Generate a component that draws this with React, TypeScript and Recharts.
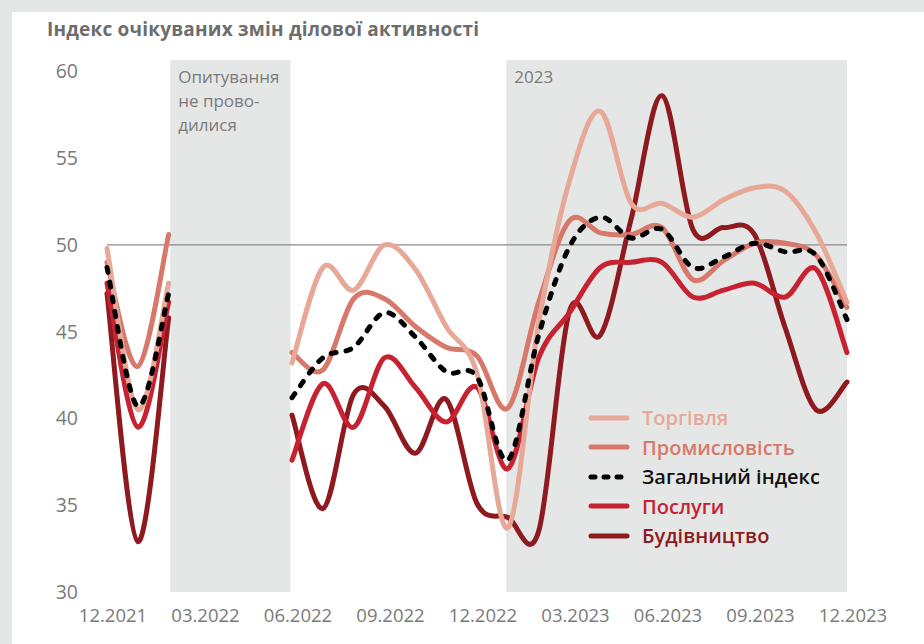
import React from "react";
import { LineChart, Line, XAxis, YAxis, ReferenceArea, ReferenceLine } from "recharts";

// monthly points 12.2021 .. 12.2023, null = no survey
const months = [
  "12.2021", "01.2022", "02.2022", "03.2022", "04.2022", "05.2022", "06.2022", "07.2022", "08.2022",
  "09.2022", "10.2022", "11.2022", "12.2022", "01.2023", "02.2023", "03.2023", "04.2023", "05.2023",
  "06.2023", "07.2023", "08.2023", "09.2023", "10.2023", "11.2023", "12.2023",
];
const tickIdx = [0, 3, 6, 9, 12, 15, 18, 21, 24];
const yTicks = [30, 35, 40, 45, 50, 55, 60];

const trade = [49.8, 40.5, 47.8, null, null, null, 43.2, 48.7, 47.4, 50.0, 48.6, 45.3, 42.6, 33.7, 45.5, 53.7, 57.7, 52.4, 52.4, 51.6, 52.6, 53.3, 53.1, 50.7, 46.7];
const industry = [49.0, 43.0, 50.6, null, null, null, 43.8, 42.8, 46.9, 46.9, 45.3, 44.1, 43.6, 40.6, 46.7, 51.4, 50.7, 50.6, 51.0, 48.0, 49.1, 50.1, 50.1, 49.4, 46.4];
const total = [48.7, 40.7, 47.2, null, null, null, 41.2, 43.5, 44.1, 46.1, 44.7, 42.7, 42.4, 37.6, 44.8, 49.9, 51.6, 50.4, 50.9, 48.7, 49.3, 50.1, 49.6, 49.4, 45.7];
const services = [47.8, 39.5, 46.7, null, null, null, 37.6, 42.0, 39.5, 43.5, 41.8, 39.8, 41.8, 37.1, 43.5, 46.1, 48.7, 49.0, 49.0, 47.0, 47.4, 47.8, 47.0, 48.6, 43.8];
const construction = [47.2, 32.9, 45.8, null, null, null, 40.2, 34.8, 41.4, 40.7, 38.0, 41.1, 35.1, 34.3, 33.5, 46.2, 44.8, 51.5, 58.6, 50.9, 51.0, 50.6, 45.2, 40.5, 42.1];

const data = months.map((m, i) => ({
  i,
  trade: trade[i],
  industry: industry[i],
  total: total[i],
  services: services[i],
  construction: construction[i],
}));

const C = {
  trade: "#E7A898",
  industry: "#D8786B",
  total: "#000000",
  services: "#C62232",
  construction: "#8E1A20",
};

const series = [
  { key: "construction", name: "Будівництво" },
  { key: "services", name: "Послуги" },
  { key: "industry", name: "Промисловість" },
  { key: "trade", name: "Торгівля" },
  { key: "total", name: "Загальний індекс" },
];
const legendOrder = ["trade", "industry", "total", "services", "construction"];

const GREY = "#7a7a7a";
const SHADE = "#E5E7E7";

// Catmull-Rom smoothing (Excel-like smoothed lines)
function smooth(context: any) {
  let pts: [number, number][] = [];
  return {
    areaStart() {},
    areaEnd() {},
    lineStart() { pts = []; },
    point(x: number, y: number) { pts.push([+x, +y]); },
    lineEnd() {
      if (!pts.length) return;
      context.moveTo(pts[0][0], pts[0][1]);
      for (let k = 0; k < pts.length - 1; k++) {
        const p0 = pts[k - 1] || pts[k];
        const p1 = pts[k];
        const p2 = pts[k + 1];
        const p3 = pts[k + 2] || p2;
        context.bezierCurveTo(
          p1[0] + (p2[0] - p0[0]) / 6, p1[1] + (p2[1] - p0[1]) / 6,
          p2[0] - (p3[0] - p1[0]) / 6, p2[1] - (p3[1] - p1[1]) / 6,
          p2[0], p2[1],
        );
      }
    },
  };
}

function AreaNote({ viewBox, lines }: any) {
  if (!viewBox) return null;
  return (
    <g>
      {lines.map((t: string, k: number) => (
        <text key={k} x={viewBox.x + 8} y={viewBox.y + 23 + k * 24} fill={GREY} fontSize={17}>{t}</text>
      ))}
    </g>
  );
}

function XTick({ x, y, payload }: any) {
  return (
    <text x={x + 6} y={y} dy="0.71em" textAnchor="middle" fill={GREY} fontSize={18.5}>
      {months[payload.value]}
    </text>
  );
}

function Sample({ color, dashed }: { color: string; dashed?: boolean }) {
  return (
    <svg width={44} height={10} style={{ display: "block" }}>
      <line x1={3} y1={5} x2={39} y2={5} stroke={color} strokeWidth={5} strokeLinecap="round"
        strokeDasharray={dashed ? "4 9" : undefined} />
    </svg>
  );
}

export default function App() {
  return (
    <div style={{ position: "absolute", left: 0, top: 0, width: 924, height: 644, background: "#fff", fontFamily: "'Open Sans', sans-serif", overflow: "hidden" }}>
      <div style={{ position: "absolute", left: 0, top: 0, width: 924, height: 12, background: SHADE }} />
      <div style={{ position: "absolute", left: 0, top: 0, width: 12, height: 644, background: SHADE }} />
      <div style={{ position: "absolute", left: 47, top: 16, fontSize: 19, fontWeight: 700, letterSpacing: 0.2, color: "#6d6d6d" }}>
        Індекс очікуваних змін ділової активності
      </div>
      <div style={{ position: "absolute", left: 0, top: 0 }}>
        <LineChart width={924} height={644} data={data} margin={{ top: 60, right: 77, bottom: 22, left: 0 }}>
          <ReferenceArea x1={2.05} x2={5.95} y1={30} y2={60.66} fill={SHADE} fillOpacity={1} stroke="none"
            label={(p: any) => <AreaNote viewBox={p.viewBox} lines={["Опитування", "не прово-", "дилися"]} />} />
          <ReferenceArea x1={12.95} x2={24} y1={30} y2={60.66} fill={SHADE} fillOpacity={1} stroke="none"
            label={(p: any) => <AreaNote viewBox={p.viewBox} lines={["2023"]} />} />
          <ReferenceLine y={50} stroke="#8a8a8a" strokeWidth={1.3} />
          <XAxis dataKey="i" type="number" domain={[0, 24]} ticks={tickIdx} interval={0}
            axisLine={false} tickLine={false} tickSize={0} tickMargin={17} height={30} tick={<XTick />} />
          <YAxis type="number" domain={[30, 60.66]} ticks={yTicks} interval={0} width={107}
            axisLine={false} tickLine={false} tickSize={0} tickMargin={29}
            tick={{ fill: GREY, fontSize: 19.5 }} />
          {series.map((s) => (
            <Line key={s.key} dataKey={s.key} name={s.name} type={smooth as any}
              stroke={C[s.key as keyof typeof C]} strokeWidth={5} strokeLinecap="round" strokeLinejoin="round"
              strokeDasharray={s.key === "total" ? "5 10" : undefined}
              dot={false} activeDot={false} connectNulls={false} isAnimationActive={false} />
          ))}
        </LineChart>
      </div>
      <div style={{ position: "absolute", left: 588, top: 403 }}>
        {legendOrder.map((k) => {
          const s = series.find((q) => q.key === k)!;
          return (
            <div key={k} style={{ display: "flex", alignItems: "center", height: 29.5 }}>
              <Sample color={C[k as keyof typeof C]} dashed={k === "total"} />
              <span style={{ marginLeft: 10, fontSize: 20, fontWeight: 600, color: k === "total" ? "#111" : C[k as keyof typeof C] }}>
                {s.name}
              </span>
            </div>
          );
        })}
      </div>
    </div>
  );
}
